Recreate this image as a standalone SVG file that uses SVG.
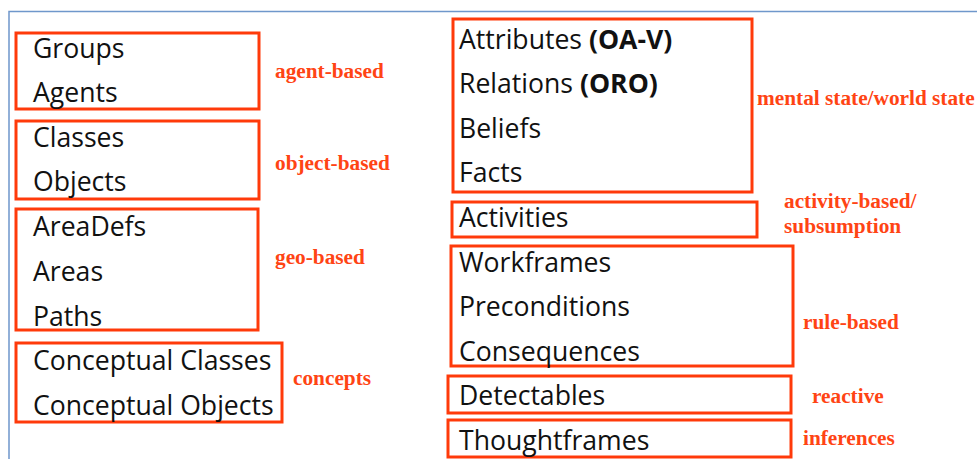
<svg xmlns="http://www.w3.org/2000/svg" width="977" height="459" viewBox="0 0 977 459">
<style>
.frame{fill:none;stroke:#6F97CB;stroke-width:1.5}
.box{fill:none;stroke:#FF3A0A;stroke-width:3}
.t{font-family:"Open Sans","DejaVu Sans",sans-serif;font-size:26.6px;fill:#111}
.b{font-weight:bold}
.lbl{font-family:"Liberation Serif","Times New Roman",serif;font-size:21.3px;font-weight:bold;fill:#FF4414}
</style>
<rect width="977" height="459" fill="#fff"/>
<path class="frame" d="M9 459 V11.5 H977"/>
<g id="agents">
<rect class="box" x="16" y="33" width="243" height="76"/>
<text class="t" x="33" y="58">Groups</text>
<text class="t" x="33" y="102">Agents</text>
</g>
<g id="objects">
<rect class="box" x="16" y="121" width="243" height="78"/>
<text class="t" x="33" y="147">Classes</text>
<text class="t" x="33" y="191">Objects</text>
</g>
<g id="geo">
<rect class="box" x="16" y="209" width="242" height="121"/>
<text class="t" x="33" y="236">AreaDefs</text>
<text class="t" x="33" y="281">Areas</text>
<text class="t" x="33" y="326">Paths</text>
</g>
<g id="concepts">
<rect class="box" x="16" y="343" width="266" height="79"/>
<text class="t" x="33" y="370">Conceptual Classes</text>
<text class="t" x="33" y="415">Conceptual Objects</text>
</g>
<g id="state">
<rect class="box" x="453" y="19" width="299" height="173"/>
<text class="t" x="459" y="49">Attributes <tspan class="b">(OA-V)</tspan></text>
<text class="t" x="459" y="93">Relations <tspan class="b">(ORO)</tspan></text>
<text class="t" x="459" y="138">Beliefs</text>
<text class="t" x="459" y="182">Facts</text>
</g>
<g id="activities">
<rect class="box" x="452" y="202" width="305" height="35"/>
<text class="t" x="459" y="227">Activities</text>
</g>
<g id="rules">
<rect class="box" x="451" y="246" width="342" height="120"/>
<text class="t" x="459" y="272">Workframes</text>
<text class="t" x="459" y="316">Preconditions</text>
<text class="t" x="459" y="361">Consequences</text>
</g>
<g id="detectables">
<rect class="box" x="448" y="376" width="343" height="37"/>
<text class="t" x="459" y="405">Detectables</text>
</g>
<g id="thoughtframes">
<rect class="box" x="448" y="420" width="343" height="37"/>
<text class="t" x="459" y="450">Thoughtframes</text>
</g>
<g id="labels">
<text class="lbl" x="275" y="78">agent-based</text>
<text class="lbl" x="275" y="170">object-based</text>
<text class="lbl" x="275" y="264">geo-based</text>
<text class="lbl" x="293" y="385">concepts</text>
<text class="lbl" x="757" y="105">mental state/world state</text>
<text class="lbl" x="784" y="208">activity-based/</text>
<text class="lbl" x="784" y="233">subsumption</text>
<text class="lbl" x="803" y="329">rule-based</text>
<text class="lbl" x="812" y="403">reactive</text>
<text class="lbl" x="803" y="445">inferences</text>
</g>
</svg>
